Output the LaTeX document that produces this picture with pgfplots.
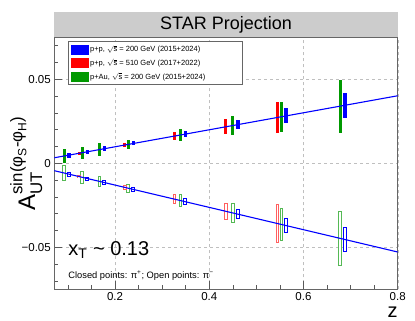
\documentclass[border=0pt]{standalone}
\usepackage{pgfplots}
\pgfplotsset{compat=1.18}
\usepackage{pgfplotstable}
\usepackage{amsmath}
\usepackage{fontspec}
\setmainfont{Liberation Sans}
\definecolor{ppblue}{RGB}{0,0,255}
\definecolor{ppred}{RGB}{255,0,0}
\definecolor{pagreen}{RGB}{0,153,0}
\definecolor{openred}{RGB}{255,95,95}
\definecolor{opengreen}{RGB}{85,185,85}
\definecolor{titlegray}{RGB}{204,204,204}

% upper branch (pi+), closed points: z, A_UT, error
\pgfplotstableread{
z y e
0.102 0.0049 0.0015
0.141 0.0068 0.0013
0.177 0.0087 0.0015
0.239 0.0118 0.0012
0.349 0.0174 0.0020
0.461 0.0230 0.0028
0.563 0.0282 0.0045
0.688 0.0345 0.0075
}\bluePlus
\pgfplotstableread{
z y e
0.092 0.0044 0.0040
0.130 0.0063 0.0035
0.167 0.0082 0.0037
0.228 0.0112 0.0025
0.339 0.0169 0.0037
0.450 0.0225 0.0056
0.553 0.0277 0.0088
0.678 0.0340 0.0157
}\greenPlus
\pgfplotstableread{
z y e
0.124 0.0060 0.0008
0.221 0.0109 0.0014
0.326 0.0162 0.0023
0.435 0.0217 0.0044
0.545 0.0273 0.0093
}\redPlus
% lower branch (pi-), open points
\pgfplotstableread{
z y e
0.102 -0.0065 0.0016
0.141 -0.0091 0.0012
0.177 -0.0115 0.0015
0.239 -0.0156 0.0012
0.349 -0.0229 0.0020
0.461 -0.0303 0.0030
0.563 -0.0371 0.0045
0.688 -0.0454 0.0075
}\blueMinus
\pgfplotstableread{
z y e
0.092 -0.0058 0.0045
0.130 -0.0083 0.0039
0.167 -0.0108 0.0035
0.228 -0.0148 0.0027
0.339 -0.0222 0.0039
0.450 -0.0296 0.0060
0.553 -0.0364 0.0100
0.678 -0.0447 0.0162
}\greenMinus
\pgfplotstableread{
z y e
0.124 -0.0079 0.0008
0.221 -0.0144 0.0015
0.326 -0.0213 0.0028
0.435 -0.0286 0.0050
0.545 -0.0359 0.0117
}\redMinus

\pgfplotsset{
  barbox/.style n args={2}{draw=none, mark=none, forget plot,
    error bars/.cd, y dir=both, y explicit, error mark=none,
    error bar style={draw=#1, line width=#2}},
}

\begin{document}
\begin{tikzpicture}
\path[use as bounding box] (-54.3pt,-31.7pt) rectangle (360.7pt,289.3pt);
\begin{axis}[
  scale only axis, width=343.4pt, height=252pt,
  xmin=0.071, xmax=0.8, ymin=-0.075, ymax=0.075,
  xtick={0.2,0.4,0.6,0.8}, xticklabels={0.2,0.4,0.6,0.8},
  ytick={-0.05,0,0.05}, yticklabels={−0.05,0,0.05},
  minor xtick={0.1,0.15,0.25,0.3,0.35,0.45,0.5,0.55,0.65,0.7,0.75},
  minor ytick={-0.07,-0.06,-0.04,-0.03,-0.02,-0.01,0.01,0.02,0.03,0.04,0.06,0.07},
  tick align=inside, tick pos=left,
  major tick length=8pt, minor tick length=4pt,
  tick style={black!65, line width=0.5pt},
  axis line style={black!60, line width=0.6pt},
  grid=major, major grid style={dashed, black!25, line width=0.4pt},
  tick label style={font=\fontsize{11.5}{12}\selectfont},
  /pgf/number format/assume math mode=true,
  title={STAR Projection},
  every axis title/.style={at={(axis description cs:0.5,1)}, anchor=south,
    fill=titlegray, minimum width=343.4pt, minimum height=24.6pt, inner sep=0pt,
    font=\fontsize{18}{18}\selectfont},
  xlabel={z},
  every axis x label/.style={at={(axis description cs:1,-0.11)}, anchor=base east,
    inner sep=0pt, font=\fontsize{20}{20}\selectfont},
  ylabel={\fontsize{24}{24}\selectfont $\text{A}_{\text{UT}}^{\text{sin(φ}_{\text{S}}\text{-φ}_{\text{H}}\text{)}}$},
  every axis y label/.style={at={(axis description cs:-0.056,0.5)}, rotate=90,
    anchor=base, inner sep=0pt},
  legend style={at={(axis description cs:0.041,0.984)}, anchor=north west,
    draw=black!60, line width=0.5pt, fill=white,
    font=\fontsize{7.5}{9}\selectfont, inner xsep=2pt, inner ysep=2pt, row sep=2pt},
  legend cell align=left,
]
\addlegendimage{legend image code/.code={\fill[ppblue] (0pt,-4.5pt) rectangle (17pt,4.5pt);}}
\addlegendentry{\makebox[148pt][l]{p+p, $\sqrt{\mbox{s}}$ = 200 GeV (2015+2024)}}
\addlegendimage{legend image code/.code={\fill[ppred] (0pt,-4.5pt) rectangle (17pt,4.5pt);}}
\addlegendentry{p+p, $\sqrt{\mbox{s}}$ = 510 GeV (2017+2022)}
\addlegendimage{legend image code/.code={\fill[pagreen] (0pt,-4.5pt) rectangle (17pt,4.5pt);}}
\addlegendentry{p+Au, $\sqrt{\mbox{s}}$ = 200 GeV (2015+2024)}

% closed points (pi+)
\addplot[barbox={pagreen}{3pt}] table[x=z, y=y, y error=e] {\greenPlus};
\addplot[barbox={ppred}{3pt}] table[x=z, y=y, y error=e] {\redPlus};
\addplot[barbox={ppblue}{3.3pt}] table[x=z, y=y, y error=e] {\bluePlus};
% open points (pi-): coloured box with white inside
\addplot[barbox={opengreen}{3.6pt}] table[x=z, y=y, y error=e] {\greenMinus};
\addplot[barbox={white}{1.6pt}] table[x=z, y=y, y error expr=\thisrow{e}-0.0006] {\greenMinus};
\addplot[barbox={openred}{3.6pt}] table[x=z, y=y, y error=e] {\redMinus};
\addplot[barbox={white}{1.6pt}] table[x=z, y=y, y error expr=\thisrow{e}-0.0006] {\redMinus};
\addplot[barbox={ppblue}{4pt}] table[x=z, y=y, y error=e] {\blueMinus};
\addplot[barbox={white}{2pt}] table[x=z, y=y, y error expr=\thisrow{e}-0.0006] {\blueMinus};

\addplot[ppblue, line width=1.1pt, forget plot] coordinates {(0.071,0.0033) (0.8,0.0402)};
\addplot[ppblue, line width=1.1pt, forget plot] coordinates {(0.071,-0.0044) (0.8,-0.0528)};

\node[anchor=base west, inner sep=0pt, font=\fontsize{20}{20}\selectfont] at (axis cs:0.1006,-0.0548) {x\textsubscript{T} \textasciitilde{} 0.13};
\node[anchor=base west, inner sep=0pt, font=\fontsize{9.3}{10}\selectfont] at (axis cs:0.1006,-0.0683) {Closed points: π\textsuperscript{+}; Open points: π\textsuperscript{−}};
\end{axis}
\end{tikzpicture}
\end{document}
